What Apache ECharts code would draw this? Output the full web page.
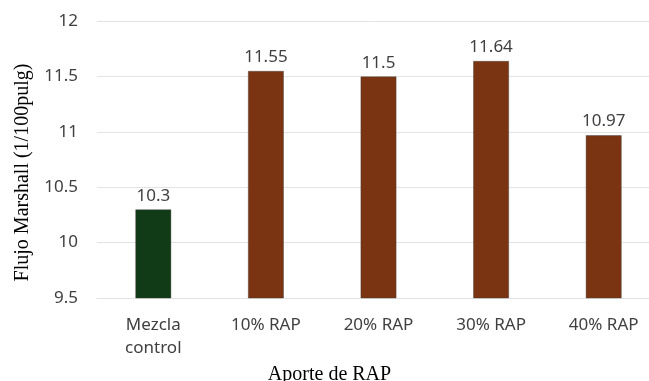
<!DOCTYPE html>
<html>
<head>
<meta charset="utf-8">
<script src="https://cdn.jsdelivr.net/npm/echarts@6/dist/echarts.min.js"></script>
<style>
  html, body { margin: 0; padding: 0; background: #ffffff; overflow: hidden; }
  #chart { width: 649px; height: 381px; }
</style>
</head>
<body>
<div id="chart"></div>
<script>
// Marshall flow per RAP content
const categories = ['Mezcla\ncontrol', '10% RAP', '20% RAP', '30% RAP', '40% RAP'];
const flowValues = [10.3, 11.55, 11.5, 11.64, 10.97];
const barColors = ['#113a16', '#7b3411', '#7b3411', '#7b3411', '#7b3411'];
const yTicks = { min: 9.5, max: 12, interval: 0.5 };

const chart = echarts.init(document.getElementById('chart'));
chart.setOption({
  animation: false,
  grid: {
    left: 97, right: -11, top: 21, bottom: 83,
    containLabel: false, outerBoundsMode: 'none'
  },
  xAxis: {
    type: 'category',
    data: categories,
    axisLine: { show: true, lineStyle: { color: '#e3e3e3' } },
    axisTick: { show: false },
    axisLabel: {
      color: '#404040', fontSize: 17, fontFamily: 'Noto Sans',
      lineHeight: 23, margin: 16
    },
    name: 'Aporte de RAP',
    nameLocation: 'middle',
    nameGap: 64,
    nameTextStyle: {
      color: '#000', fontSize: 20, fontFamily: 'Liberation Serif',
      padding: [0, 98, 0, 0]
    }
  },
  yAxis: {
    type: 'value',
    min: yTicks.min, max: yTicks.max, interval: yTicks.interval,
    axisLine: { show: false },
    axisTick: { show: false },
    splitLine: { lineStyle: { color: '#e3e3e3' } },
    axisLabel: {
      color: '#404040', fontSize: 17, fontFamily: 'Noto Sans', margin: 19
    },
    name: 'Flujo Marshall (1/100pulg)',
    nameLocation: 'middle',
    nameGap: 64,
    nameTextStyle: {
      color: '#000', fontSize: 20, fontFamily: 'Liberation Serif',
      padding: [0, 26, 0, 0]
    }
  },
  series: [{
    type: 'bar',
    data: flowValues.map((v, i) => ({ value: v, itemStyle: { color: barColors[i] } })),
    barWidth: 36,
    itemStyle: { borderColor: 'rgba(60,60,60,0.5)', borderWidth: 0.8 },
    label: {
      show: true, position: 'top', distance: 5,
      color: '#404040', fontSize: 17, fontFamily: 'Noto Sans'
    }
  }]
});
</script>
</body>
</html>
